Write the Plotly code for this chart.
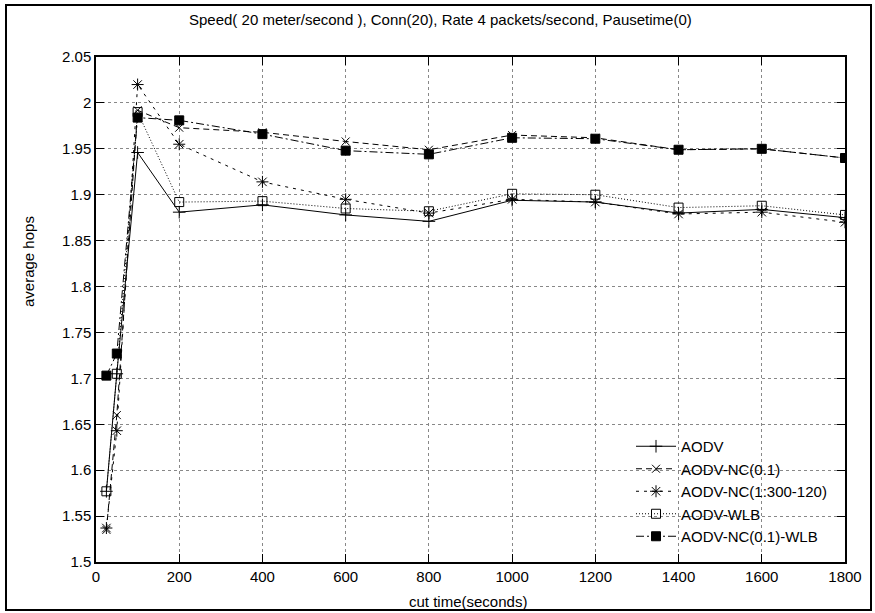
import plotly.graph_objects as go

cut_time = [25, 50, 100, 200, 400, 600, 800, 1000, 1200, 1400, 1600, 1800]

aodv = [1.577, 1.705, 1.946, 1.881, 1.889, 1.878, 1.871, 1.894, 1.892, 1.880, 1.884, 1.875]
aodv_nc = [1.535, 1.660, 1.992, 1.973, 1.968, 1.958, 1.949, 1.965, 1.962, 1.949, 1.950, 1.940]
aodv_nc_1300 = [1.537, 1.643, 2.020, 1.955, 1.914, 1.895, 1.880, 1.895, 1.892, 1.879, 1.881, 1.870]
aodv_wlb = [1.577, 1.705, 1.990, 1.892, 1.893, 1.885, 1.882, 1.901, 1.900, 1.886, 1.888, 1.878]
aodv_nc_wlb = [1.703, 1.727, 1.984, 1.981, 1.966, 1.948, 1.944, 1.962, 1.961, 1.949, 1.950, 1.940]

names = ["AODV", "AODV-NC(0.1)", "AODV-NC(1:300-120)", "AODV-WLB", "AODV-NC(0.1)-WLB"]
series = [aodv, aodv_nc, aodv_nc_1300, aodv_wlb, aodv_nc_wlb]
dashes = ["solid", "6px,4px", "3px,5px", "1px,2px", "8px,3px,2px,3px"]
symbols = ["cross-thin-open", "x-thin-open", "asterisk-open", "square-open", "square"]
msizes = [9, 8, 10, 9, 9]

FONT = "Liberation Sans, Arial, sans-serif"
FS = 15

fig = go.Figure()
for name, ys, d, s, ms in zip(names, series, dashes, symbols, msizes):
    fig.add_trace(go.Scatter(
        x=cut_time, y=ys, name=name, mode="lines+markers",
        line=dict(color="black", width=1, dash=d),
        marker=dict(symbol=s, size=ms, color="black",
                    line=dict(color="black", width=1)),
    ))

W, H = 875, 613
L, R, T, B = 96, 845, 57, 562
pw, ph = R - L, B - T

def px(x):
    return (x - L) / pw

def py(y):
    return (B - y) / ph

axis_common = dict(
    ticks="inside", ticklen=8, tickwidth=1, tickcolor="black",
    showline=True, linecolor="black", linewidth=1.5, mirror="allticks",
    showgrid=True, gridcolor="#888", griddash="dot", gridwidth=1,
    zeroline=False, tickfont=dict(size=FS),
)

fig.update_layout(
    width=W, height=H,
    margin=dict(l=L, r=W - R, t=T, b=H - B),
    paper_bgcolor="white", plot_bgcolor="white",
    font=dict(family=FONT, size=FS, color="black"),
    showlegend=True,
    legend=dict(x=px(832), y=py(553), xanchor="right", yanchor="bottom",
                bgcolor="rgba(0,0,0,0)", font=dict(size=FS),
                tracegroupgap=0, itemwidth=40),
    xaxis=dict(range=[0, 1800], tickvals=list(range(0, 1801, 200)), **axis_common),
    yaxis=dict(range=[1.5, 2.05], tickvals=[1.5 + 0.05 * i for i in range(12)],
               ticktext=["1.5", "1.55", "1.6", "1.65", "1.7", "1.75", "1.8", "1.85",
                         "1.9", "1.95", "2", "2.05"], **axis_common),
)

fig.add_annotation(text="Speed( 20 meter/second ), Conn(20), Rate 4 packets/second, Pausetime(0)",
                   xref="paper", yref="paper", x=px(440), y=py(20),
                   showarrow=False, font=dict(size=FS), xanchor="center", yanchor="middle")
fig.add_annotation(text="cut time(seconds)", xref="paper", yref="paper",
                   x=px(468), y=py(601), showarrow=False, font=dict(size=FS),
                   xanchor="center", yanchor="middle")
fig.add_annotation(text="average hops", xref="paper", yref="paper",
                   x=px(28), y=py(262), showarrow=False, font=dict(size=FS),
                   textangle=-90, xanchor="center", yanchor="middle")

fig.add_shape(type="rect", xref="paper", yref="paper",
              x0=px(6), x1=px(871), y0=py(610), y1=py(5),
              line=dict(color="black", width=2), layer="below")

fig.write_html("out.html")
